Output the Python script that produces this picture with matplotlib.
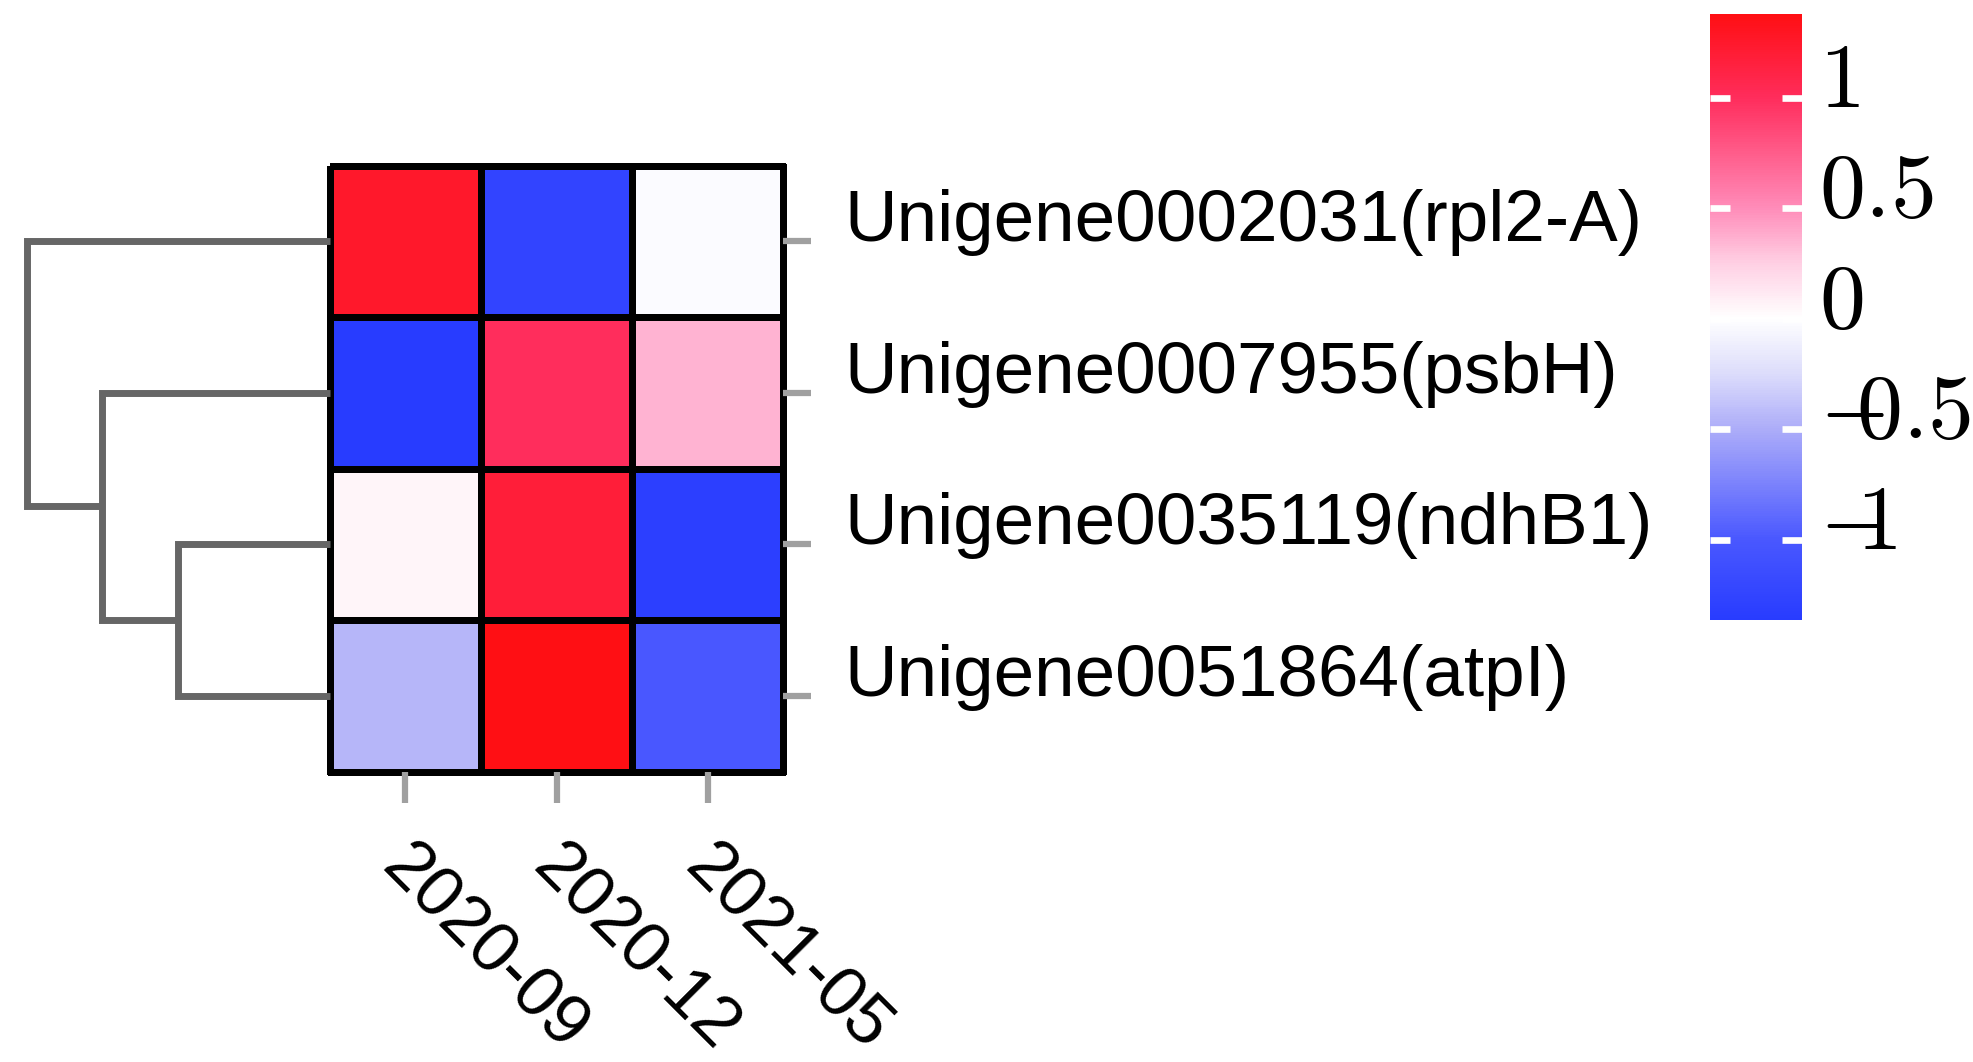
import numpy as np
import matplotlib
matplotlib.use("Agg")
import matplotlib.pyplot as plt
from matplotlib.colors import LinearSegmentedColormap, Normalize

# data (row z-scores)
genes = ['Unigene0002031(rpl2-A)', 'Unigene0007955(psbH)',
         'Unigene0035119(ndhB1)', 'Unigene0051864(atpI)']
months = ['2020-09', '2020-12', '2021-05']
zscore = [
    [1.25, -1.25, -0.03],
    [-1.36, 1.00, 0.36],
    [0.05, 1.18, -1.32],
    [-0.45, 1.37, -1.00],
]

# row clustering: (left, right, height), scipy-like ids (leaves 0..3, nodes 4..)
link_left = [2, 1, 0]
link_right = [3, 4, 5]
link_height = [1.0, 1.5, 2.0]

# colour scale
vmin, vmax = -1.364, 1.378
cb_ticks = [1, 0.5, 0, -0.5, -1]
cb_labels = [r'$1$', r'$0.5$', r'$0$', r'$-\hspace{-0.42}0.5$', r'$-\hspace{-0.42}1$']
anchor_vals = [-1.364, -1.0, -0.5, -0.25, 0.0, 0.25, 0.5, 1.0, 1.378]
anchor_cols = ['#283CFF', '#4A58FF', '#ADADF9', '#DCDCFB', '#FFFFFF',
               '#FFD0E4', '#FF8CB9', '#FF2D5C', '#FF0F14']

plt.rcParams['font.family'] = ['Liberation Sans', 'DejaVu Sans']
plt.rcParams['mathtext.fontset'] = 'cm'

W, H = 1973, 1062
fig = plt.figure(figsize=(W / 100, H / 100), dpi=100)


def px(l, t, r, b):
    return [l / W, 1 - b / H, (r - l) / W, (b - t) / H]


pos = [(v - vmin) / (vmax - vmin) for v in anchor_vals]
cmap = LinearSegmentedColormap.from_list('bwr_custom', list(zip(pos, anchor_cols)), N=256)
norm = Normalize(vmin=vmin, vmax=vmax)

# heatmap
ax = fig.add_axes(px(329.5, 165.5, 783.5, 771.5))
mesh = ax.pcolormesh(np.array(zscore), cmap=cmap, norm=norm,
                     edgecolors='black', linewidth=5)
mesh.set_clip_on(False)
ax.set_xlim(0, len(months))
ax.set_ylim(len(genes), 0)
for s in ax.spines.values():
    s.set_visible(False)

ax.set_xticks(np.arange(len(months)) + 0.5)
ax.set_xticklabels([])
ax.tick_params(axis='x', bottom=True, length=22, width=4.5, color='#A0A0A0')
ax.yaxis.tick_right()
ax.set_yticks(np.arange(len(genes)) + 0.5)
ax.set_yticklabels(genes, fontsize=52.5, va='baseline')
ax.tick_params(axis='y', right=True, left=False, length=20.5, width=4.5,
               color='#A0A0A0', pad=23)

for i, m in enumerate(months):
    ax.annotate(m, xy=(i + 0.5, 0), xycoords=('data', 'axes fraction'),
                xytext=(-19, -70.5), textcoords='offset points',
                rotation=-45, rotation_mode='anchor', ha='left', va='baseline',
                fontsize=51)

# dendrogram
dax = fig.add_axes(px(0, 165.5, 329.5, 771.5), sharey=ax)
ypos = {i: i + 0.5 for i in range(len(genes))}
hgt = {i: 0.0 for i in range(len(genes))}
for k, (l, r, h) in enumerate(zip(link_left, link_right, link_height)):
    dax.plot([hgt[l], h, h, hgt[r]], [ypos[l], ypos[l], ypos[r], ypos[r]],
             color='#666666', lw=5, solid_joinstyle='miter',
             solid_capstyle='butt', clip_on=False)
    ypos[len(genes) + k] = (ypos[l] + ypos[r]) / 2
    hgt[len(genes) + k] = h
dax.set_xlim(329.5 / 151.4, 0)
dax.axis('off')

# colour bar
cax = fig.add_axes(px(1710, 14, 1802, 620))
cb = fig.colorbar(mesh, cax=cax)
cb.outline.set_visible(False)
cb.set_ticks(cb_ticks)
cax.tick_params(axis='y', direction='in', left=True, right=True, color='white',
                length=14.4, width=4.8, labelright=False, labelleft=False)
for v, lab in zip(cb_ticks, cb_labels):
    cax.annotate(lab, xy=(1, v), xycoords=('axes fraction', 'data'),
                 xytext=(12.5, 10.5), textcoords='offset points',
                 ha='left', va='center', fontsize=66)

fig.savefig('out.png', dpi=100)
